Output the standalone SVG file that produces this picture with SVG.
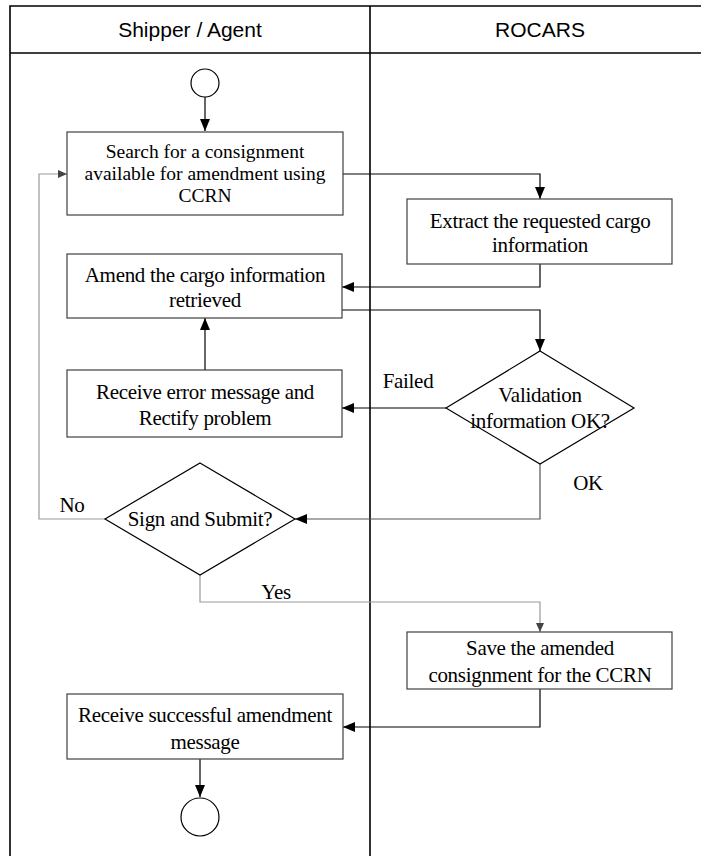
<svg xmlns="http://www.w3.org/2000/svg" width="701" height="856" viewBox="0 0 701 856">
<style>
.lane{fill:none;stroke:#000;stroke-width:1.6}
.hdr{font-family:"Liberation Sans",Arial,sans-serif;font-size:21px;fill:#000;text-anchor:middle}
.box{fill:#fff;stroke:#404040;stroke-width:1.2}
.t{font-family:"Liberation Serif","Times New Roman",serif;font-size:21px;letter-spacing:-0.3px;fill:#000;text-anchor:middle}
.s{font-size:19.5px;letter-spacing:0}
.c{fill:none;stroke:#000;stroke-width:1.2}
.g{fill:none;stroke:#999;stroke-width:1.2}
.d{fill:none;stroke:#555;stroke-width:1.2}
</style>
<defs>
<marker id="ah" markerWidth="12" markerHeight="10" refX="12" refY="5" orient="auto" markerUnits="userSpaceOnUse"><path d="M0,0 L12,5 L0,10 Z" fill="#000"/></marker>
<marker id="ahg" markerWidth="9" markerHeight="8" refX="9" refY="4" orient="auto" markerUnits="userSpaceOnUse"><path d="M0,0 L9,4 L0,8 Z" fill="#444"/></marker>
</defs>
<rect width="701" height="856" fill="#fff"/>
<g id="lanes">
<path class="lane" d="M10,860 V6 H705 M10,53 H705 M370,6 V860"/>
<text class="hdr" x="190" y="37">Shipper / Agent</text>
<text class="hdr" x="540" y="37">ROCARS</text>
</g>
<g id="connectors">
<path class="c" d="M205,97 V131" marker-end="url(#ah)"/>
<path class="c" d="M343,174 H540 V199" marker-end="url(#ah)"/>
<path class="c" d="M540,264 V287 H342" marker-end="url(#ah)"/>
<path class="c" d="M342,310 H540 V351" marker-end="url(#ah)"/>
<path class="c" d="M446,408 H342" marker-end="url(#ah)"/>
<path class="c" d="M205,370 V318" marker-end="url(#ah)"/>
<path class="d" d="M540,464 V519 H295" marker-end="url(#ah)"/>
<path class="g" d="M105,519 H39 V174 H67" marker-end="url(#ahg)"/>
<path class="g" d="M200,575 V602 H540 V632" marker-end="url(#ahg)"/>
<path class="c" d="M540,689 V727 H343" marker-end="url(#ah)"/>
<path class="c" d="M200,759 V797" marker-end="url(#ah)"/>
<text class="t" x="408" y="388">Failed</text>
<text class="t" x="588" y="490">OK</text>
<text class="t" x="72" y="512">No</text>
<text class="t" x="276" y="599">Yes</text>
</g>
<g id="start"><circle cx="205" cy="83" r="14" fill="#fff" stroke="#000" stroke-width="1.2"/></g>
<g id="search">
<rect class="box" x="67" y="132" width="276" height="83"/>
<text class="t s" x="205" y="158">Search for a consignment</text>
<text class="t s" x="205" y="180">available for amendment using</text>
<text class="t s" x="205" y="202">CCRN</text>
</g>
<g id="extract">
<rect class="box" x="407" y="199" width="265" height="65"/>
<text class="t" x="540" y="228">Extract the requested cargo</text>
<text class="t" x="540" y="252">information</text>
</g>
<g id="amend">
<rect class="box" x="67" y="254" width="275" height="64"/>
<text class="t" x="205" y="282">Amend the cargo information</text>
<text class="t" x="205" y="307">retrieved</text>
</g>
<g id="validation">
<path d="M540,351 L634,408 L540,464 L446,408 Z" fill="none" stroke="#000" stroke-width="1.2"/>
<text class="t" x="540" y="402">Validation</text>
<text class="t" x="540" y="428">information OK?</text>
</g>
<g id="error">
<rect class="box" x="67" y="370" width="275" height="67"/>
<text class="t" x="205" y="399">Receive error message and</text>
<text class="t" x="205" y="425">Rectify problem</text>
</g>
<g id="sign">
<path d="M200,463 L295,519 L200,575 L105,519 Z" fill="#fff" stroke="#000" stroke-width="1.2"/>
<text class="t" x="200" y="526">Sign and Submit?</text>
</g>
<g id="save">
<rect class="box" x="407" y="632" width="265" height="57"/>
<text class="t" x="540" y="655">Save the amended</text>
<text class="t" x="540" y="682">consignment for the CCRN</text>
</g>
<g id="success">
<rect class="box" x="67" y="694" width="276" height="65"/>
<text class="t" x="205" y="722">Receive successful amendment</text>
<text class="t" x="205" y="749">message</text>
</g>
<g id="end"><circle cx="200" cy="817" r="19" fill="#fff" stroke="#000" stroke-width="1.2"/></g>
</svg>
